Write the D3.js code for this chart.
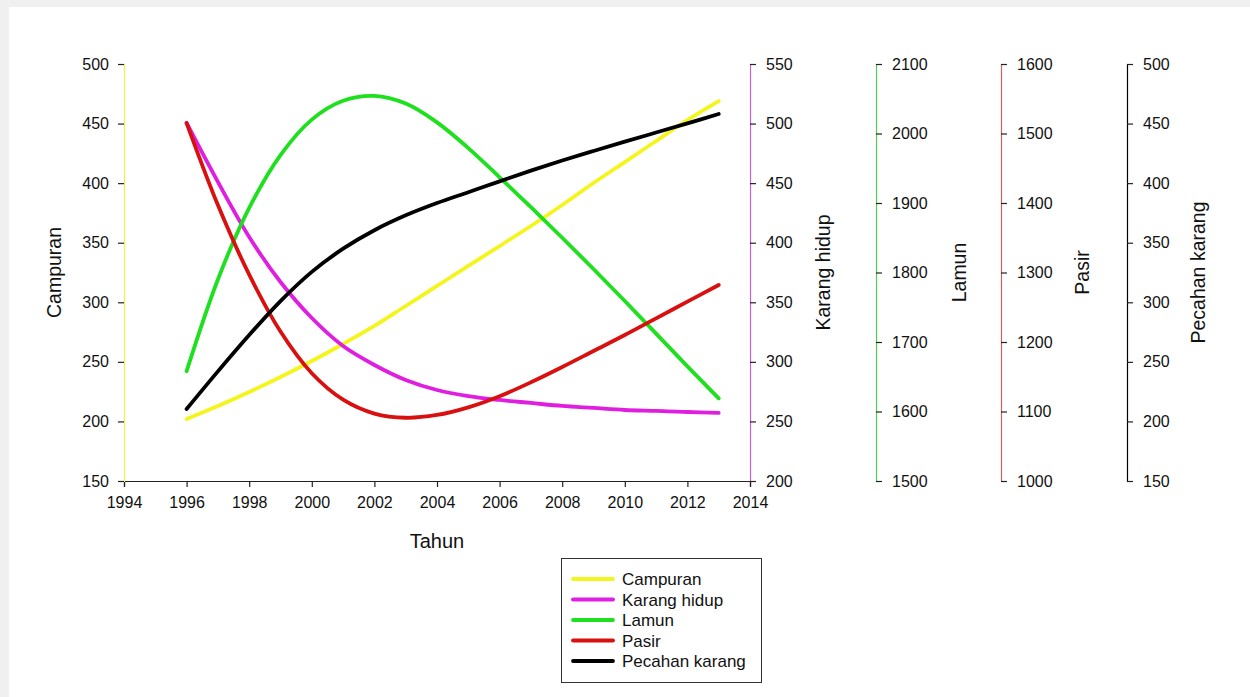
<!DOCTYPE html>
<html>
<head>
<meta charset="utf-8">
<script src="https://cdn.jsdelivr.net/npm/d3@7/dist/d3.min.js"></script>
<style>
  html, body { margin: 0; padding: 0; background: #f0f0f0; }
  svg { display: block; font-family: "Liberation Sans", Arial, sans-serif; }
</style>
</head>
<body>
<svg id="chart" width="1250" height="697"></svg>
<script>
// ---- Data ----
const years = [1996,1997,1998,1999,2000,2001,2002,2003,2004,2005,2006,2007,2008,2009,2010,2011,2012,2013];
const campuran = [202.0,212.9,224.7,237.3,250.7,265.0,280.1,296.9,313.7,330.5,347.2,364.0,381.7,400.1,417.7,435.4,453.0,468.9];
const karangHidup = [500.5,451.0,404.8,367.0,336.8,313.3,297.4,284.8,276.4,271.3,268.0,265.5,263.0,261.3,259.6,258.8,257.9,257.1];
const lamun = [1658,1790,1893,1969,2020,2047,2054,2043,2016,1979,1937,1894,1850,1805,1759,1712,1665,1619];
const pasir = [1515,1397,1297,1215,1155,1117,1097,1091,1095,1106,1122,1142,1164,1187,1210,1234,1258,1282];
const pecahanKarang = [210.4,242.0,272.5,301.0,325.5,345.0,360.5,373.0,383.3,392.4,401.5,410.5,419.0,427.0,434.8,442.5,450.2,458.0];

const xTicks = [1994,1996,1998,2000,2002,2004,2006,2008,2010,2012,2014];
const campuranTicks = [150,200,250,300,350,400,450,500];
const karangTicks = [200,250,300,350,400,450,500,550];
const lamunTicks = [1500,1600,1700,1800,1900,2000,2100];
const pasirTicks = [1000,1100,1200,1300,1400,1500,1600];
const pecahanTicks = [150,200,250,300,350,400,450,500];

const seriesNames = ["Campuran","Karang hidup","Lamun","Pasir","Pecahan karang"];
const seriesColors = ["#f5f51e","#e01ee0","#1ee01e","#d81010","#000000"];
const axisColors = ["#f0f050","#d060d0","#50d050","#d06060","#000000"];

// ---- Layout ----
const svg = d3.select("#chart");
svg.append("rect").attr("x", 9).attr("y", 7).attr("width", 1241).attr("height", 690).attr("fill", "#ffffff");

const plotTop = 64, plotBottom = 481;
const x = d3.scaleLinear().domain([1994, 2014]).range([124, 750]);
const yCamp = d3.scaleLinear().domain([150, 500]).range([plotBottom, plotTop]);
const yKar = d3.scaleLinear().domain([200, 550]).range([plotBottom, plotTop]);
const yLam = d3.scaleLinear().domain([1500, 2100]).range([plotBottom, plotTop]);
const yPas = d3.scaleLinear().domain([1000, 1600]).range([plotBottom, plotTop]);
const yPec = d3.scaleLinear().domain([150, 500]).range([plotBottom, plotTop]);

const fontSize = 16;
const fmt = d3.format("d");

function styleAxis(g, color) {
  g.select(".domain").attr("stroke", color).attr("stroke-width", 1.2);
  g.selectAll(".tick line").attr("stroke", "#222").attr("stroke-width", 1.2);
  g.selectAll(".tick text").attr("fill", "#111").style("font-size", fontSize + "px")
    .style("font-family", "'Liberation Sans', Arial, sans-serif");
}

// X axis
const gx = svg.append("g").attr("transform", `translate(0,${plotBottom})`)
  .call(d3.axisBottom(x).tickValues(xTicks).tickFormat(fmt).tickSizeOuter(0).tickSize(6).tickPadding(10));
styleAxis(gx, "#222");

// Left axis (Campuran)
const gl = svg.append("g").attr("transform", `translate(124,0)`)
  .call(d3.axisLeft(yCamp).tickValues(campuranTicks).tickFormat(fmt).tickSizeOuter(0).tickSize(6).tickPadding(9));
styleAxis(gl, axisColors[0]);

// Right axes
function rightAxis(xpos, scale, ticks, color) {
  const g = svg.append("g").attr("transform", `translate(${xpos},0)`)
    .call(d3.axisRight(scale).tickValues(ticks).tickFormat(fmt).tickSizeOuter(0).tickSize(6).tickPadding(10));
  styleAxis(g, color);
  return g;
}
rightAxis(750, yKar, karangTicks, axisColors[1]);
rightAxis(876, yLam, lamunTicks, axisColors[2]);
rightAxis(1001, yPas, pasirTicks, axisColors[3]);
rightAxis(1127, yPec, pecahanTicks, axisColors[4]);

// Axis titles
const titleSize = 19.5;
function vTitle(xp, text) {
  svg.append("text").attr("transform", `translate(${xp},${(plotTop + plotBottom) / 2}) rotate(-90)`)
    .attr("text-anchor", "middle").attr("fill", "#111").style("font-size", titleSize + "px").text(text);
}
vTitle(61, "Campuran");
vTitle(830, "Karang hidup");
vTitle(966, "Lamun");
vTitle(1089, "Pasir");
vTitle(1205, "Pecahan karang");
svg.append("text").attr("x", 437).attr("y", 548).attr("text-anchor", "middle")
  .attr("fill", "#111").style("font-size", "20px").text("Tahun");

// Lines
const allSeries = [
  { vals: campuran, y: yCamp },
  { vals: karangHidup, y: yKar },
  { vals: lamun, y: yLam },
  { vals: pasir, y: yPas },
  { vals: pecahanKarang, y: yPec }
];
allSeries.forEach((s, i) => {
  const line = d3.line().x((d, j) => x(years[j])).y(d => s.y(d)).curve(d3.curveCatmullRom.alpha(0.5));
  svg.append("path").datum(s.vals).attr("d", line)
    .attr("fill", "none").attr("stroke", seriesColors[i]).attr("stroke-width", 3.8)
    .attr("stroke-linecap", "round").attr("stroke-linejoin", "round");
});

// Legend
const lg = svg.append("g");
lg.append("rect").attr("x", 561.5).attr("y", 558.5).attr("width", 200).attr("height", 124)
  .attr("fill", "#fff").attr("stroke", "#333").attr("stroke-width", 1);
seriesNames.forEach((name, i) => {
  const yy = 579 + i * 20.5;
  lg.append("line").attr("x1", 573).attr("x2", 613).attr("y1", yy).attr("y2", yy)
    .attr("stroke", seriesColors[i]).attr("stroke-width", 3.8).attr("stroke-linecap", "round");
  lg.append("text").attr("x", 622).attr("y", yy + 6).attr("fill", "#111")
    .style("font-size", "17px").text(name);
});
</script>
</body>
</html>
